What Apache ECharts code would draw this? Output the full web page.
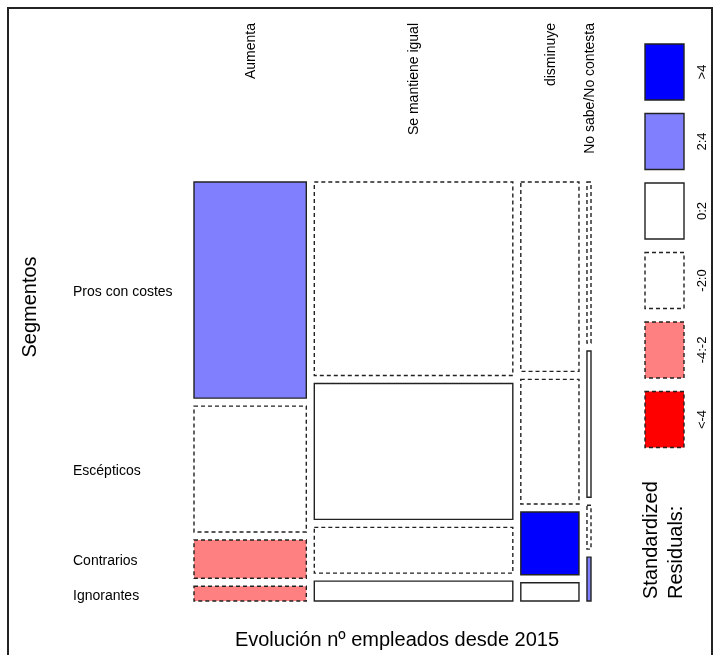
<!DOCTYPE html>
<html>
<head>
<meta charset="utf-8">
<script src="https://cdn.jsdelivr.net/npm/echarts@6/dist/echarts.min.js"></script>
<style>
html,body{margin:0;padding:0;background:#fff;}
#chart{width:713px;height:655px;}
</style>
</head>
<body>
<div id="chart"></div>
<script>
// ---- data ----
const columns = ['Aumenta', 'Se mantiene igual', 'disminuye', 'No sabe/No contesta'];
const segments = ['Pros con costes', 'Escépticos', 'Contrarios', 'Ignorantes'];
// counts by column for each segment
const prosConCostes = [412, 652, 187, 11];
const escepticos   = [240, 458, 123, 10];
const contrarios   = [73, 154, 62, 3];
const ignorantes   = [28, 67, 18, 3];
// standardized residual class of each cell
const resPros = ['2:4', '-2:0', '-2:0', '-2:0'];
const resEsc  = ['-2:0', '0:2', '-2:0', '0:2'];
const resCon  = ['-4:-2', '-2:0', '>4', '-2:0'];
const resIgn  = ['-4:-2', '0:2', '0:2', '2:4'];
const legendBins = ['>4', '2:4', '0:2', '-2:0', '-4:-2', '<-4'];
const xTitle = 'Evolución nº empleados desde 2015';
const yTitle = 'Segmentos';
const legendTitle = 'Standardized\nResiduals:';

// ---- styling ----
const binFill = {'>4': '#0000FF', '2:4': '#8080FF', '0:2': '#FFFFFF', '-2:0': '#FFFFFF', '-4:-2': '#FF8080', '<-4': '#FF0000'};
const binDashed = {'>4': false, '2:4': false, '0:2': false, '-2:0': true, '-4:-2': true, '<-4': true};
const FONT = 'Liberation Sans, Arial, sans-serif';
const STROKE = '#222';
const LW = 1.4;

const rowsCounts = [prosConCostes, escepticos, contrarios, ignorantes];
const rowsRes = [resPros, resEsc, resCon, resIgn];

// mosaic layout in data units (axes 0..1)
const gapX = 8 / 397, gapY = 8 / 419;
const colTotals = columns.map((c, j) => rowsCounts.reduce((s, r) => s + r[j], 0));
const grand = colTotals.reduce((a, b) => a + b, 0);
const contentX = 1 - gapX * (columns.length - 1);
const contentY = 1 - gapY * (segments.length - 1);
const cells = [];
let xCursor = 0;
columns.forEach((c, j) => {
  const w = contentX * colTotals[j] / grand;
  let yCursor = 0;
  segments.forEach((s, i) => {
    const h = contentY * rowsCounts[i][j] / colTotals[j];
    cells.push([xCursor, yCursor, xCursor + w, yCursor + h, i, j]);
    yCursor += h + gapY;
  });
  xCursor += w + gapX;
});

const chart = echarts.init(document.getElementById('chart'), null, {renderer: 'canvas'});

const option = {
  backgroundColor: '#fff',
  animation: false,
  grid: {left: 194, top: 182, width: 397, height: 419},
  xAxis: {type: 'value', min: 0, max: 1, show: false},
  yAxis: {type: 'value', min: 0, max: 1, inverse: true, show: false},
  series: [
    {
      type: 'custom',
      coordinateSystem: 'cartesian2d',
      data: cells,
      renderItem: function (params, api) {
        const p0 = api.coord([api.value(0), api.value(1)]);
        const p1 = api.coord([api.value(2), api.value(3)]);
        const i = api.value(4), j = api.value(5);
        const bin = rowsRes[i][j];
        return {
          type: 'rect',
          shape: {x: p0[0], y: p0[1], width: p1[0] - p0[0], height: p1[1] - p0[1]},
          style: {
            fill: binFill[bin],
            stroke: STROKE,
            lineWidth: LW,
            lineDash: binDashed[bin] ? [4, 3] : null
          }
        };
      }
    },
    {
      // column labels (top)
      type: 'custom',
      coordinateSystem: 'cartesian2d',
      data: cells.filter(c => c[4] === 0),
      renderItem: function (params, api) {
        const p0 = api.coord([api.value(0), 0]);
        const p1 = api.coord([api.value(2), 0]);
        const j = api.value(5);
        return {
          type: 'text',
          x: (p0[0] + p1[0]) / 2 + 1,
          y: 23,
          rotation: Math.PI / 2,
          style: {text: columns[j], fill: '#000', fontSize: 14, fontFamily: FONT, align: 'right', verticalAlign: 'middle'}
        };
      }
    },
    {
      // row labels (left), centred on the first column's tiles
      type: 'custom',
      coordinateSystem: 'cartesian2d',
      data: cells.filter(c => c[5] === 0),
      renderItem: function (params, api) {
        const p0 = api.coord([0, api.value(1)]);
        const p1 = api.coord([0, api.value(3)]);
        const i = api.value(4);
        return {
          type: 'text',
          x: 73,
          y: (p0[1] + p1[1]) / 2 + 2,
          style: {text: segments[i], fill: '#000', fontSize: 14, fontFamily: FONT, align: 'left', verticalAlign: 'middle'}
        };
      }
    }
  ],
  graphic: []
};

// frame
option.graphic.push({type: 'rect', shape: {x: 8, y: 8, width: 704, height: 700}, style: {fill: 'none', stroke: '#222', lineWidth: 2}, silent: true});
// axis titles
option.graphic.push({type: 'text', x: 397, y: 640, style: {text: xTitle, fill: '#000', fontSize: 20, fontFamily: FONT, align: 'center', verticalAlign: 'middle'}});
option.graphic.push({type: 'text', x: 30, y: 307, rotation: Math.PI / 2, style: {text: yTitle, fill: '#000', fontSize: 20, fontFamily: FONT, align: 'center', verticalAlign: 'middle'}});
// legend
legendBins.forEach((b, k) => {
  const top = 44 + k * 69.5;
  option.graphic.push({type: 'rect', shape: {x: 645, y: top, width: 39, height: 56},
    style: {fill: binFill[b], stroke: STROKE, lineWidth: LW, lineDash: binDashed[b] ? [4, 3] : null}});
  option.graphic.push({type: 'text', x: 702, y: top + 28, rotation: Math.PI / 2,
    style: {text: b, fill: '#000', fontSize: 13, fontFamily: FONT, align: 'center', verticalAlign: 'middle'}});
});
option.graphic.push({type: 'text', x: 639, y: 599, rotation: Math.PI / 2,
  style: {text: legendTitle, fill: '#000', fontSize: 20, lineHeight: 25, fontFamily: FONT, align: 'left', verticalAlign: 'top'}});

chart.setOption(option);
</script>
</body>
</html>
